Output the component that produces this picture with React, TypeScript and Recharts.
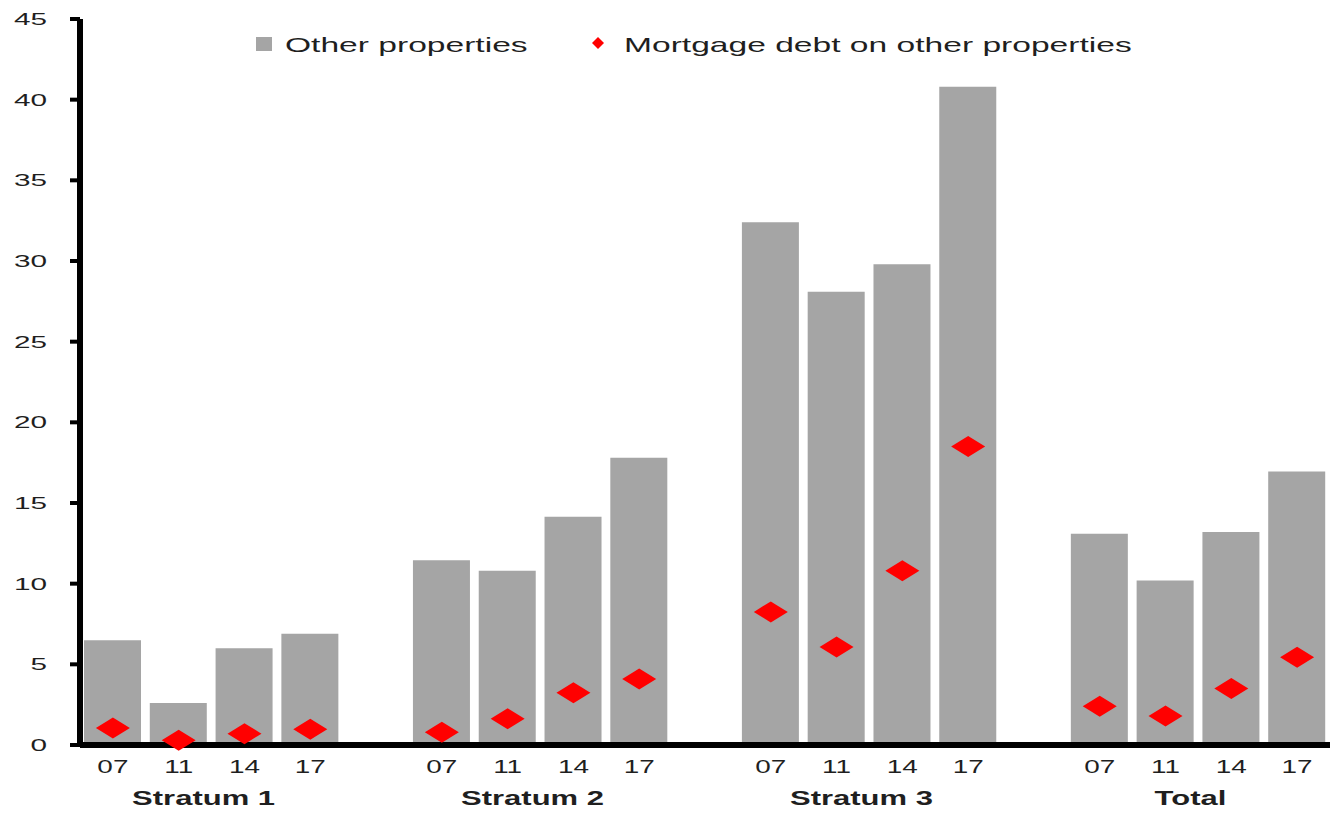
import React from 'react';
import { ComposedChart, Bar, Line, XAxis, YAxis } from 'recharts';

// Survey waves and groups shown on the category axis
const groups = ['Stratum 1', 'Stratum 2', 'Stratum 3', 'Total'];
const years = ['07', '11', '14', '17'];

// Share holding other properties (bars), per group and wave
const otherProperties = [
  6.5, 2.6, 6.0, 6.9,
  11.45, 10.8, 14.15, 17.8,
  32.4, 28.1, 29.8, 40.8,
  13.1, 10.2, 13.2, 16.95,
];

// Mortgage debt on other properties (diamonds), per group and wave
const mortgageDebt = [
  1.05, 0.3, 0.7, 0.97,
  0.79, 1.63, 3.24, 4.09,
  8.25, 6.08, 10.8, 18.5,
  2.4, 1.8, 3.5, 5.44,
];

const yTicks = [0, 5, 10, 15, 20, 25, 30, 35, 40, 45];

type Row = {
  key: string;
  year: string;
  group: string;
  pos: number;
  other: number | null;
  debt: number | null;
};

// One row per bar, with an empty slot between groups
const rows: Row[] = [];
groups.forEach((g, gi) => {
  years.forEach((y, yi) => {
    const i = gi * years.length + yi;
    rows.push({ key: `${g}-${y}`, year: y, group: g, pos: yi, other: otherProperties[i], debt: mortgageDebt[i] });
  });
  if (gi < groups.length - 1) {
    rows.push({ key: `gap-${gi}`, year: '', group: '', pos: -1, other: null, debt: null });
  }
});

const W = 1338;
const H = 815;
const MARGIN = { top: 19, right: 8, bottom: 0, left: 0 };
const Y_AXIS_W = 80;
const X_AXIS_H = 70;
const SLOT = (W - MARGIN.left - MARGIN.right - Y_AXIS_W) / rows.length;

const FONT = '"Liberation Sans", Arial, sans-serif';
const TEXT = '#1f1f1f';
const BAR = '#A5A5A5';
const RED = '#FF0000';

const YTick = (props: any) => {
  const { x, y, payload } = props;
  return (
    <text
      transform={`translate(${x},${y + 6}) scale(1.75,1)`}
      textAnchor="end"
      fontFamily={FONT}
      fontSize={17}
      fill={TEXT}
    >
      {payload.value}
    </text>
  );
};

const XTick = (props: any) => {
  const { x, y, index } = props;
  const row = rows[index];
  if (!row) return <g />;
  return (
    <g>
      <text
        transform={`translate(${x},${y + 20}) scale(1.47,1)`}
        textAnchor="middle"
        fontFamily={FONT}
        fontSize={19}
        fill={TEXT}
      >
        {row.year}
      </text>
      {row.pos === 1 && (
        <text
          transform={`translate(${x + SLOT / 2 - 8},${y + 52}) scale(1.55,1)`}
          textAnchor="middle"
          fontFamily={FONT}
          fontSize={20}
          fontWeight="bold"
          fill={TEXT}
        >
          {row.group}
        </text>
      )}
    </g>
  );
};

const Diamond = (props: any) => {
  const { cx, cy, value, index } = props;
  if (value == null || cx == null || cy == null) return <g key={`d-${index}`} />;
  const hw = 17;
  const hh = 10.5;
  return (
    <polygon
      key={`d-${index}`}
      points={`${cx - hw},${cy} ${cx},${cy - hh} ${cx + hw},${cy} ${cx},${cy + hh}`}
      fill={RED}
    />
  );
};

// Series key drawn above the plot area
const SeriesKey = () => (
  <svg
    width={900}
    height={34}
    style={{ position: 'absolute', left: 250, top: 29, overflow: 'visible' }}
  >
    <rect x={6} y={8} width={16} height={14} fill={BAR} />
    <text transform="translate(35,23) scale(1.6,1)" fontFamily={FONT} fontSize={21} fill={TEXT}>
      Other properties
    </text>
    <polygon points="342,14 348,8 354,14 348,20" fill={RED} />
    <text transform="translate(374,23) scale(1.6,1)" fontFamily={FONT} fontSize={21} fill={TEXT}>
      Mortgage debt on other properties
    </text>
  </svg>
);

export default function App() {
  return (
    <div style={{ position: 'absolute', left: 0, top: 0, width: W, height: H, background: '#fff' }}>
      <ComposedChart width={W} height={H} data={rows} margin={MARGIN}>
        <XAxis
          dataKey="key"
          height={X_AXIS_H}
          interval={0}
          tickLine={false}
          axisLine={{ stroke: '#000', strokeWidth: 6 }}
          tick={<XTick />}
        />
        <YAxis
          width={Y_AXIS_W}
          domain={[0, 45]}
          ticks={yTicks}
          interval={0}
          tickSize={10}
          tickMargin={23}
          tickLine={{ stroke: '#000', strokeWidth: 4 }}
          axisLine={{ stroke: '#000', strokeWidth: 6 }}
          tick={<YTick />}
        />
        <Bar dataKey="other" name="Other properties" fill={BAR} barSize={57} isAnimationActive={false} />
        <Line
          dataKey="debt"
          name="Mortgage debt on other properties"
          stroke="none"
          dot={Diamond}
          activeDot={false}
          legendType="none"
          isAnimationActive={false}
        />
      </ComposedChart>
      <SeriesKey />
    </div>
  );
}
